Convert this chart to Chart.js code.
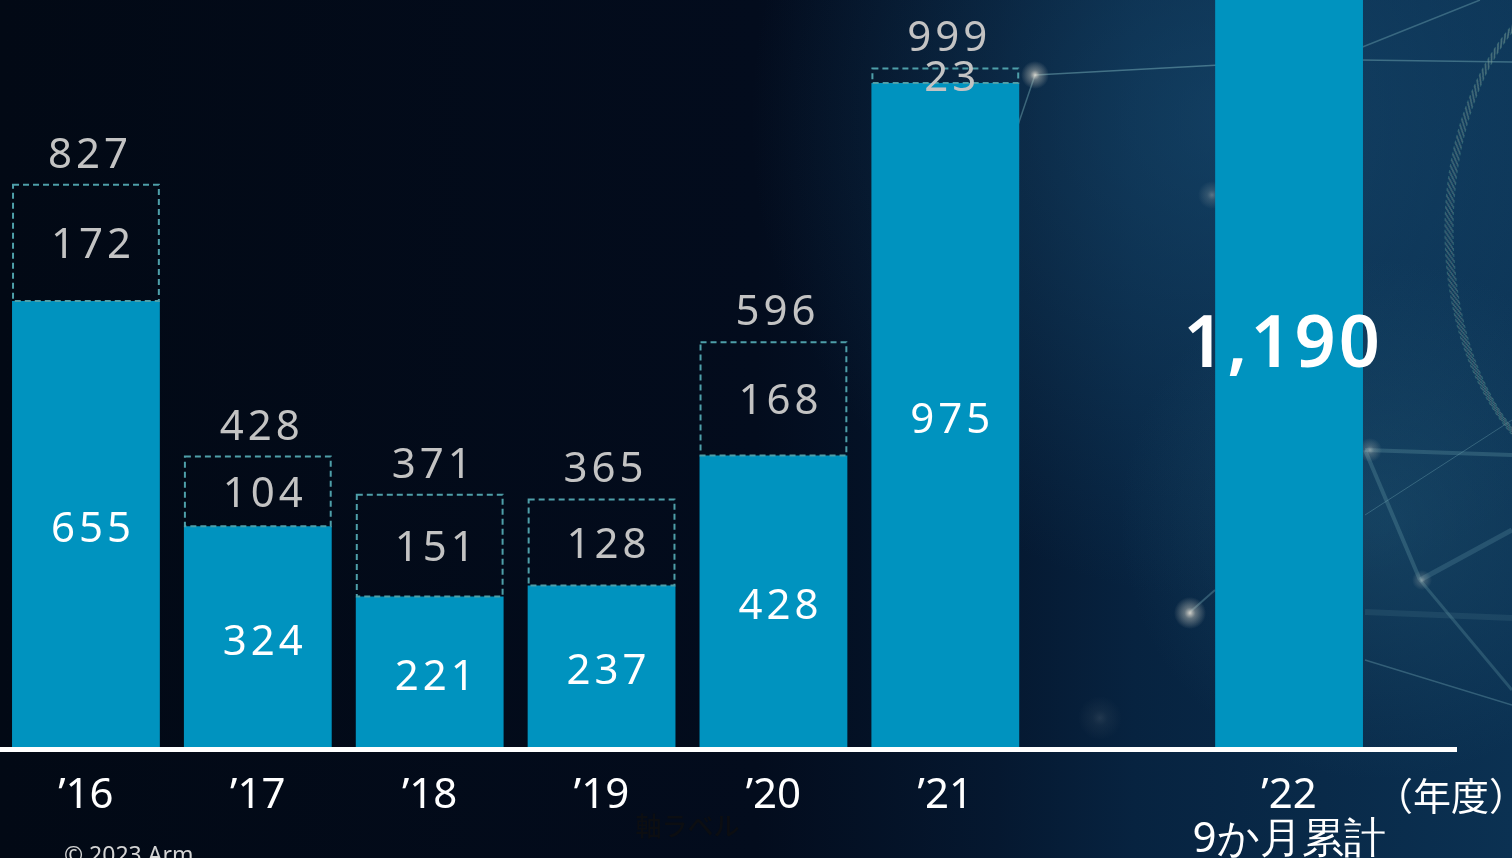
<!DOCTYPE html>
<html lang="ja">
<head>
<meta charset="utf-8">
<title>年度別推移</title>
<script src="https://cdn.jsdelivr.net/npm/chart.js@4/dist/chart.umd.min.js"></script>
<style>
  html, body { margin: 0; padding: 0; background: #020915; overflow: hidden; }
  #chart { display: block; }
</style>
</head>
<body>
<canvas id="chart" width="1512" height="858"></canvas>
<script>
// Fiscal years; the empty slot leaves a gap before the 9-month cumulative bar.
const categories = ['’16', '’17', '’18', '’19', '’20', '’21', '', ['’22', '9か月累計']];
// Solid (lower) segment of each bar.
const baseValues = [655, 324, 221, 237, 428, 975, null, 1190];
// Dashed (upper) segment of each bar.
const addedValues = [172, 104, 151, 128, 168, 23, null, null];
// Totals printed above each dashed box.
const totalValues = [827, 428, 371, 365, 596, 999, null, null];
const unitLabel = '（年度）';
const axisTitle = '軸ラベル';
const copyright = '© 2023 Arm';

const BAR_BLUE = '#0093bf';
const DASH_TEAL = '#4e9fa9';
const LABEL_GREY = '#c3c3c3';
const NUM_FONT = '"Noto Sans", "Open Sans", sans-serif';
const JP_FONT = '"Noto Sans CJK JP", "Noto Sans", sans-serif';

function fmt(v) { return v.toLocaleString('en-US'); }

// Dark network-style backdrop behind the plot.
const backdrop = {
  id: 'backdrop',
  beforeDraw(chart) {
    const { ctx, width: w, height: h } = chart;
    ctx.save();
    const g = ctx.createLinearGradient(0, 0, w, 0);
    g.addColorStop(0, '#020915');
    g.addColorStop(0.5, '#030c1d');
    g.addColorStop(0.66, '#051830');
    g.addColorStop(0.75, '#072340');
    g.addColorStop(1, '#0b3152');
    ctx.fillStyle = g;
    ctx.fillRect(0, 0, w, h);

    const glow = ctx.createRadialGradient(1230, 120, 20, 1230, 120, 480);
    glow.addColorStop(0, 'rgba(30,90,130,0.45)');
    glow.addColorStop(1, 'rgba(30,90,130,0)');
    ctx.fillStyle = glow;
    ctx.fillRect(0, 0, w, h);

    const low = ctx.createRadialGradient(1380, 520, 10, 1380, 520, 260);
    low.addColorStop(0, 'rgba(40,100,130,0.35)');
    low.addColorStop(1, 'rgba(40,100,130,0)');
    ctx.fillStyle = low;
    ctx.fillRect(0, 0, w, h);

    const seg = (a, b, c, d, lw, al) => {
      ctx.lineWidth = lw; ctx.strokeStyle = 'rgba(120,175,185,' + al + ')';
      ctx.beginPath(); ctx.moveTo(a, b); ctx.lineTo(c, d); ctx.stroke();
    };
    seg(1035, 75, 1220, 65, 1.5, 0.5);
    seg(1035, 75, 1018, 125, 1.5, 0.45);
    seg(1360, 60, 1512, 62, 1.5, 0.45);
    seg(1360, 48, 1480, 0, 1.5, 0.4);
    seg(1365, 450, 1512, 455, 4, 0.25);
    seg(1365, 450, 1420, 580, 4, 0.25);
    seg(1420, 580, 1512, 530, 5, 0.22);
    seg(1420, 580, 1512, 690, 3, 0.25);
    seg(1365, 515, 1512, 420, 1, 0.35);
    seg(1365, 660, 1512, 705, 1.5, 0.35);
    seg(1365, 612, 1512, 618, 6, 0.12);
    seg(1190, 612, 1215, 590, 2, 0.35);

    const node = (x, y, r, a) => {
      const n = ctx.createRadialGradient(x, y, 0, x, y, r);
      n.addColorStop(0, 'rgba(230,225,215,' + a + ')');
      n.addColorStop(0.35, 'rgba(200,200,190,' + (a * 0.5) + ')');
      n.addColorStop(1, 'rgba(200,200,190,0)');
      ctx.fillStyle = n;
      ctx.beginPath(); ctx.arc(x, y, r, 0, Math.PI * 2); ctx.fill();
    };
    node(1035, 75, 14, 0.9);
    node(1190, 613, 16, 0.9);
    node(1370, 450, 12, 0.5);
    node(1422, 580, 10, 0.45);
    node(1212, 195, 14, 0.35);
    node(1100, 718, 22, 0.12);

    // dotted sphere edge on the far right
    ctx.lineWidth = 1.2;
    for (let k = 0; k < 9; k++) {
      ctx.strokeStyle = k % 2 ? 'rgba(150,150,150,0.35)' : 'rgba(90,160,150,0.4)';
      ctx.setLineDash([3, 3]);
      ctx.beginPath();
      ctx.ellipse(1620 - k * 3, 230, 175 - k * 4, 260 - k * 2, 0, Math.PI * 0.5, Math.PI * 1.5);
      ctx.stroke();
    }
    ctx.restore();
  }
};

// Dashed boxes, value labels, baseline and side texts.
const annotate = {
  id: 'annotate',
  afterDatasetsDraw(chart) {
    const { ctx, chartArea } = chart;
    const m0 = chart.getDatasetMeta(0);
    const m1 = chart.getDatasetMeta(1);
    ctx.save();
    ctx.textAlign = 'center';
    ctx.textBaseline = 'middle';
    baseValues.forEach((v, i) => {
      if (v == null) return;
      const b0 = m0.data[i];
      if (addedValues[i] != null) {
        const b1 = m1.data[i];
        const left = b1.x - b1.width / 2;
        ctx.setLineDash([6, 4]);
        ctx.strokeStyle = DASH_TEAL;
        ctx.lineWidth = 2;
        ctx.strokeRect(left + 1, b1.y + 1, b1.width - 2, b1.base - b1.y - 1);
        ctx.setLineDash([]);

        ctx.letterSpacing = '4px';
        ctx.font = '400 42px ' + NUM_FONT;
        ctx.fillStyle = '#ffffff';
        ctx.fillText(fmt(v), b0.x + 7, (b0.y + b0.base) / 2 + 6);
        ctx.fillStyle = LABEL_GREY;
        ctx.fillText(fmt(addedValues[i]), b1.x + 7, (b1.y + b1.base) / 2 + 4);
        ctx.fillText(fmt(totalValues[i]), b1.x + 4, b1.y - 28);
      } else {
        ctx.letterSpacing = '3px';
        ctx.font = '600 72px ' + NUM_FONT;
        ctx.fillStyle = '#ffffff';
        ctx.fillText(fmt(v), b0.x - 6, (b0.y + b0.base) / 2 + 5);
      }
    });
    ctx.letterSpacing = '0px';
    ctx.fillStyle = '#ffffff';
    ctx.fillRect(chartArea.left, chartArea.bottom, chartArea.right - chartArea.left + 82, 5);
    ctx.restore();
  },
  afterDraw(chart) {
    const { ctx, chartArea } = chart;
    ctx.save();
    ctx.textAlign = 'center';
    ctx.textBaseline = 'middle';
    ctx.fillStyle = '#ffffff';
    ctx.font = '400 38px ' + JP_FONT;
    ctx.fillText(unitLabel, chartArea.right + 76, chartArea.bottom + 49);
    ctx.fillStyle = '#0c0e12';
    ctx.font = '500 26px ' + JP_FONT;
    ctx.fillText(axisTitle, (chartArea.left + chartArea.right) / 2, chartArea.bottom + 79);
    ctx.fillStyle = '#d4d4d4';
    ctx.font = '400 23px ' + NUM_FONT;
    ctx.textAlign = 'left';
    ctx.fillText(copyright, chartArea.left + 64, chartArea.bottom + 109);
    ctx.restore();
  }
};

new Chart(document.getElementById('chart'), {
  type: 'bar',
  data: {
    labels: categories,
    datasets: [
      { data: baseValues, backgroundColor: BAR_BLUE, borderWidth: 0,
        barPercentage: 0.86, categoryPercentage: 1 },
      { data: addedValues, backgroundColor: 'rgba(0,0,0,0)', borderWidth: 0,
        barPercentage: 0.86, categoryPercentage: 1 }
    ]
  },
  options: {
    responsive: false,
    devicePixelRatio: 1,
    animation: false,
    layout: { padding: { left: 0, right: 137, top: 0, bottom: 0 } },
    plugins: { legend: { display: false }, tooltip: { enabled: false } },
    scales: {
      x: {
        stacked: true,
        grid: { display: false, drawTicks: false },
        border: { display: false },
        ticks: {
          color: '#ffffff',
          padding: 27,
          autoSkip: false,
          maxRotation: 0,
          font: { family: NUM_FONT, size: 42, lineHeight: 1.05 }
        },
        afterFit(axis) { axis.height = 111; }
      },
      y: {
        stacked: true,
        display: false,
        min: 0,
        max: 1097
      }
    }
  },
  plugins: [backdrop, annotate]
});
</script>
</body>
</html>
